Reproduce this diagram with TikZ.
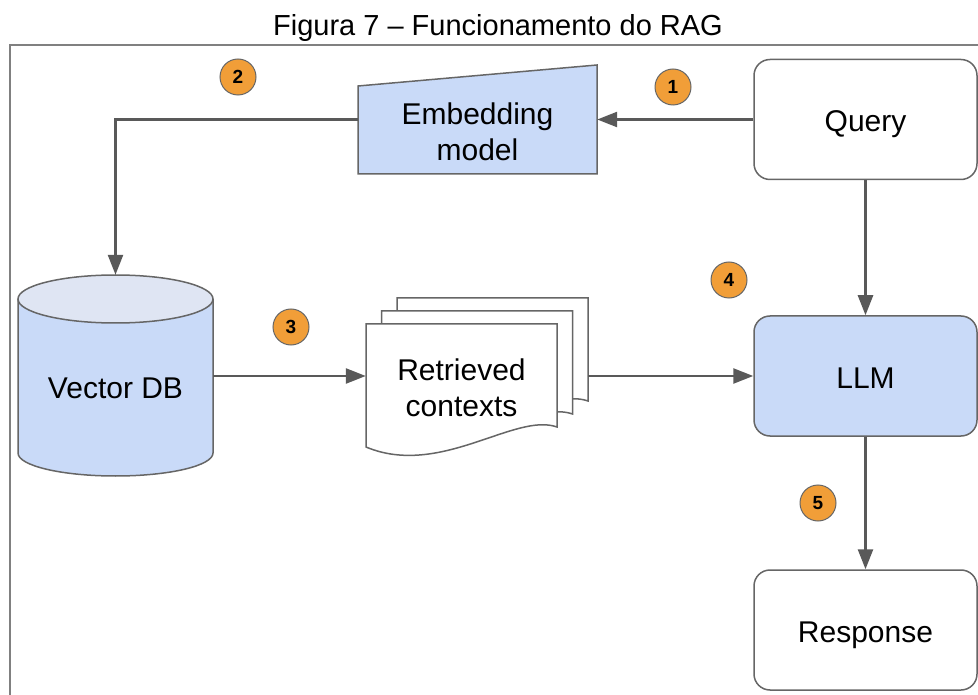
\documentclass[tikz,border=0pt]{standalone}
\usepackage{fontspec}
\setmainfont{Liberation Sans}
\usepackage{tikz}
\usetikzlibrary{arrows.meta,shapes,positioning}
\usepackage{xcolor}
\definecolor{ragblue}{RGB}{201,218,248}
\definecolor{ragtop}{RGB}{223,229,243}
\definecolor{raggray}{RGB}{89,89,89}
\definecolor{ragborder}{RGB}{102,102,102}
\definecolor{ragorange}{RGB}{241,158,56}
\definecolor{ragframe}{RGB}{128,128,128}
\tikzstyle{arrow} = [line width=2.5pt,-{Triangle[length=20pt,width=15pt]},color=raggray]
\tikzstyle{box} = [rectangle, rounded corners=16pt, minimum width=223pt, minimum height=120pt, text centered, text height=27pt, text depth=2pt, draw=ragborder, fill=white, line width=1.5pt, font=\fontsize{30}{36}\selectfont]
\tikzstyle{boxtext} = [align=center, inner sep=0pt, font=\fontsize{30}{36}\selectfont]
\tikzstyle{shapeline} = [draw=ragborder, line width=1.5pt]
\tikzstyle{stepnum} = [circle, minimum size=36pt, inner sep=0pt, draw=ragborder, fill=ragorange, line width=1pt, font=\fontsize{19}{19}\selectfont\bfseries]

\begin{document}
\begin{tikzpicture}[x=1pt, y=-1pt]
\useasboundingbox (0,0) rectangle (978,695);
% Title and frame
\node (title) at (498,28) {\fontsize{29}{34}\selectfont Figura 7 – Funcionamento do RAG};
\draw[ragframe, line width=2pt] (978,45) -- (10,45) -- (10,695);

% Embedding model
\draw[shapeline, fill=ragblue] (358,86) -- (597,65) -- (597,174) -- (358,174) -- cycle;
\node (embed) [boxtext, minimum width=239pt] at (477.5,132) {Embedding\\model};

% Vector DB
\fill[ragblue] (18,299) -- (18,453) arc[start angle=180, end angle=0, x radius=97.5, y radius=23] -- (213,299) -- cycle;
\draw[shapeline] (18,299) -- (18,453) arc[start angle=180, end angle=0, x radius=97.5, y radius=23] -- (213,299);
\draw[shapeline, fill=ragtop] (115.5,299) ellipse [x radius=97.5, y radius=24];
\node (vdb) [boxtext, minimum width=195pt, minimum height=226pt] at (115.5,388) {Vector DB};

% Retrieved contexts
\foreach \s in {2,1,0}
  \draw[shapeline, fill=white, shift={(15.5*\s,-13*\s)}] (366,324) -- (557,324) -- (557,427) .. controls (515,412) and (440,478) .. (366,447) -- cycle;
\node (ctx) [boxtext, minimum width=191pt] at (461.5,388) {Retrieved\\contexts};
\coordinate (ctxback) at ([xshift=31pt]ctx.east);

% Query, LLM, Response
\node (query) [box] at (865.5,119.5) {Query};
\node (llm) [box, fill=ragblue] at (865.5,376) {LLM};
\node (resp) [box] at (865.5,630) {Response};

% Connections
\draw[arrow] (query.west) -- (query.west -| embed.east);
\draw[arrow] (query.west -| embed.west) -| (vdb.north);
\draw[arrow] (vdb.east |- llm.west) -- (ctx.west |- llm.west);
\draw[arrow] (ctxback |- llm.west) -- (llm.west);
\draw[arrow] (query) -- (llm);
\draw[arrow] (llm) -- (resp);

% Steps
\node (s1) [stepnum] at (673,87) {1};
\node (s2) [stepnum] at (238,77) {2};
\node (s3) [stepnum] at (291,327) {3};
\node (s4) [stepnum] at (729,280) {4};
\node (s5) [stepnum] at (818,503) {5};
\end{tikzpicture}
\end{document}
